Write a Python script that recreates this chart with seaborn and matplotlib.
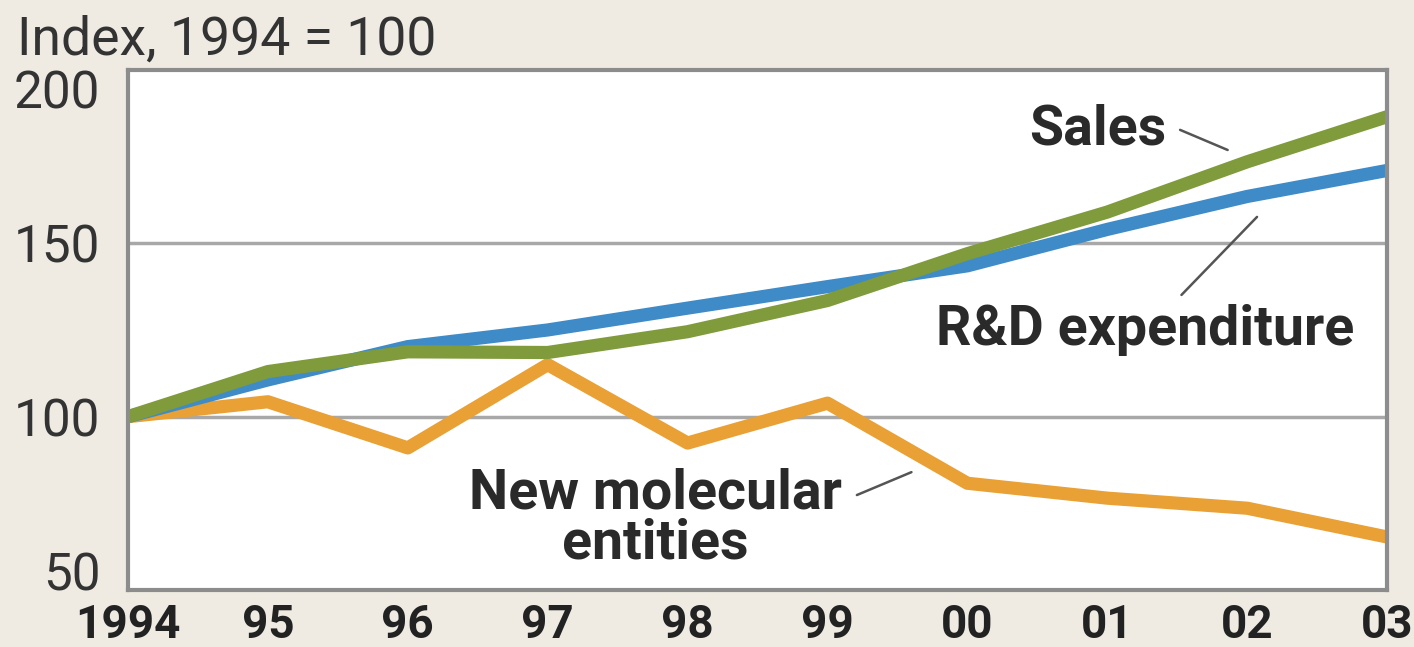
import matplotlib
matplotlib.use("Agg")
import matplotlib.pyplot as plt
import seaborn as sns
import pandas as pd
from matplotlib import font_manager

years = [1994, 1995, 1996, 1997, 1998, 1999, 2000, 2001, 2002, 2003]
year_labels = ["1994", "95", "96", "97", "98", "99", "00", "01", "02", "03"]
sales = [100, 113, 118.7, 118.5, 124.5, 133.5, 147, 159, 173.5, 186.5]
rnd = [100, 110.6, 120.2, 125, 131.3, 137.5, 143.5, 154, 163.5, 171]
nme = [100, 104.3, 91, 115, 92.4, 103.9, 80.8, 76.5, 73.6, 65.3]
y_ticks = [50, 100, 150, 200]

series_names = ["New molecular entities", "R&D expenditure", "Sales"]
series_values = [nme, rnd, sales]
palette = {"Sales": "#7f9b3c", "R&D expenditure": "#3e8bc8", "New molecular entities": "#e9a035"}

df = pd.concat([pd.DataFrame({"year": years, "value": v, "series": n})
                for n, v in zip(series_names, series_values)], ignore_index=True)

sns.set_theme(style="white")
avail = {f.name for f in font_manager.fontManager.ttflist}
fam = "Roboto" if "Roboto" in avail else "Liberation Sans"
plt.rcParams['font.family'] = [fam, 'DejaVu Sans']

bg = "#efebe3"
fig = plt.figure(figsize=(14.14, 6.47), dpi=100, facecolor=bg)
ax = fig.add_axes([0.0905, 0.088, 0.8905, 0.804])
ax.set_facecolor("white")

sns.lineplot(data=df, x="year", y="value", hue="series", hue_order=series_names,
             palette=palette, linewidth=9.5, ax=ax, legend=False, sort=False)
for line in ax.lines:
    line.set_solid_capstyle("butt")

ax.set_xlim(1994, 2003)
ax.set_ylim(50, 200)
ax.set_xticks(years)
ax.set_xticklabels(year_labels, fontsize=33, fontweight="bold", color="#222222")
ax.set_yticks(y_ticks)
ax.set_yticklabels([str(t) for t in y_ticks], fontsize=37, color="#333333")
ax.tick_params(axis="x", direction="in", length=18, width=2, color="#8a8a8a", pad=9)
ax.tick_params(axis="y", length=0, pad=20)
ylabs = ax.get_yticklabels()
ylabs[0].set_verticalalignment("baseline")
ylabs[-1].set_verticalalignment("top")
ax.set_xlabel("")
ax.set_ylabel("")

for yv in [100, 150]:
    ax.axhline(yv, color="#a8a8a8", linewidth=2.5, zorder=0.5)

for s in ax.spines.values():
    s.set_color("#8c8c8c")
    s.set_linewidth(3)

fig.text(0.012, 1 - 55 / 647, "Index, 1994 = 100", fontsize=38.5, color="#333333", va="baseline", ha="left")

txt_kw = dict(fontsize=40, fontweight="bold", color="#2a2a2a", ha="center", va="center")
ax.text(2000.93, 182.7, "Sales", **txt_kw)
ax.plot([2001.52, 2001.86], [182.7, 176.9], color="#555555", linewidth=1.8)
ax.text(2001.27, 125, "R&D expenditure", **txt_kw)
ax.plot([2001.53, 2002.07], [135.1, 157.6], color="#555555", linewidth=1.8)
ax.text(1997.77, 70.6, "New molecular\nentities", linespacing=0.95, **txt_kw)
ax.plot([1999.21, 1999.6], [77.4, 84.0], color="#555555", linewidth=1.8)

fig.savefig("out.png", dpi=100, facecolor=bg)
